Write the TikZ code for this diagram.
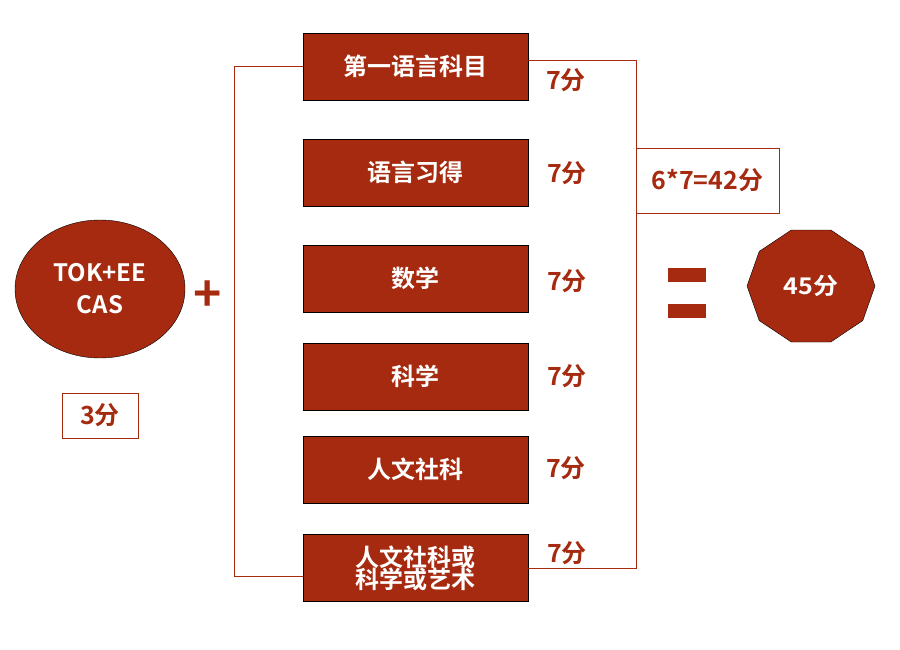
\documentclass[tikz,border=0pt]{standalone}
\usepackage{fontspec}
\setmainfont{Noto Sans CJK SC}[BoldFont={Noto Sans CJK SC Bold}]
\usetikzlibrary{shapes.geometric}
\definecolor{dr}{HTML}{A52A0F}
\begin{document}
\begin{tikzpicture}[x=1pt,y=-1pt,
  subj/.style={draw=black,fill=dr,minimum width=225pt,minimum height=67pt,text=white,font=\bfseries\fontsize{24}{26}\selectfont,align=center},
  pts/.style={text=dr,font=\bfseries\fontsize{25}{26}\selectfont},
  lbl/.style={draw=dr,line width=0.6pt,text=dr,font=\bfseries\fontsize{25}{26}\selectfont},
  br/.style={draw=dr,line width=0.7pt}]
\useasboundingbox (0,0) rectangle (900,650);
\node[subj] (s1) at (415.5,66.5) {第一语言科目};
\node[subj] (s2) at (415.5,172.5) {语言习得};
\node[subj] (s3) at (415.5,278.5) {数学};
\node[subj] (s4) at (415.5,376.5) {科学};
\node[subj] (s5) at (415.5,469.5) {人文社科};
\node[subj] (s6) at (415.5,568) {人文社科或\\[-4pt]科学或艺术};
\node[pts] (p1) at (566,80) {7分};
\node[pts] (p2) at (567,173) {7分};
\node[pts] (p3) at (567,281) {7分};
\node[pts] (p4) at (567,376) {7分};
\node[pts] (p5) at (566,468) {7分};
\node[pts] (p6) at (567,553) {7分};
\coordinate (l1) at (234,66); \coordinate (l2) at (234,576);
\coordinate (r1) at (636,60); \coordinate (r2) at (636,568);
\draw[br] (s1.west|-l1) -- (l1) -- (l2) -- (s6.west|-l2);
\draw[br] (s1.east|-r1) -- (r1) -- (r2) -- (s6.east|-r2);
\node[lbl,minimum width=143pt,minimum height=65pt,inner sep=0pt] (tot) at (707.5,180.5) {6*7=42分};
\node[ellipse,draw=black,fill=dr,minimum width=170pt,minimum height=138pt,text=white,font=\bfseries\fontsize{24}{32}\selectfont,align=center] (core) at (100,289) {TOK+EE\\CAS};
\node[lbl,minimum width=76pt,minimum height=45pt,inner sep=0pt] (c3) at (100,415.5) {3分};
\node[text=dr,font=\bfseries\fontsize{48}{48}\selectfont] (plus) at (208,296) {+};
\fill[dr] (668,268) rectangle (706,282);
\fill[dr] (668,304) rectangle (706,318);
\node[regular polygon,regular polygon sides=10,draw=black,fill=dr,minimum size=128pt,yscale=0.92,text=white,font=\bfseries\fontsize{25}{26}\selectfont] (res) at (811,286) {45分};
\end{tikzpicture}
\end{document}
